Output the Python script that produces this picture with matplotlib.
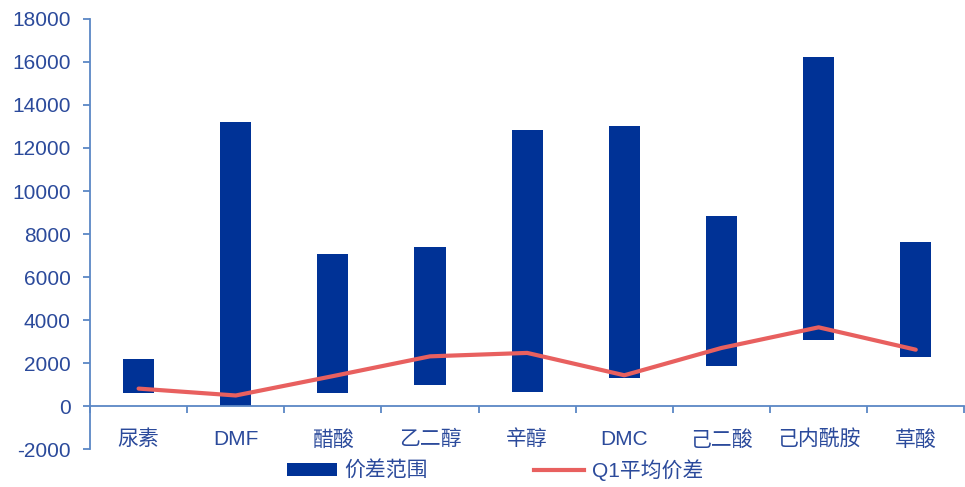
import numpy as np
import matplotlib
matplotlib.use('Agg')
import matplotlib.pyplot as plt
from matplotlib.patches import Patch
from matplotlib.lines import Line2D

plt.rcParams['font.family'] = ['Liberation Sans', 'Noto Sans CJK SC', 'DejaVu Sans']

# data
categories = ['尿素', 'DMF', '醋酸', '乙二醇', '辛醇', 'DMC', '己二酸', '己内酰胺', '草酸']
range_low = [600, 0, 600, 970, 660, 1310, 1850, 3090, 2270]
range_high = [2200, 13200, 7070, 7380, 12860, 13040, 8850, 16250, 7650]
q1_avg = [810, 490, 1390, 2310, 2470, 1430, 2700, 3660, 2620]
y_ticks = [-2000, 0, 2000, 4000, 6000, 8000, 10000, 12000, 14000, 16000, 18000]

bar_color = '#003296'
line_color = '#E8605F'
axis_color = '#5B87C5'
text_color = '#2B4A9B'

fig = plt.figure(figsize=(9.65, 4.87), dpi=100)
ax = fig.add_axes([0.0933, 0.078, 0.906, 0.883])

x = np.arange(len(categories))
low = np.array(range_low)
high = np.array(range_high)
ax.bar(x, high - low, bottom=low, width=0.32, color=bar_color, zorder=2)
ax.plot(x, q1_avg, color=line_color, linewidth=3, zorder=3, solid_capstyle='round')

ax.set_xlim(-0.5, len(categories) - 0.5)
ax.set_ylim(-2000, 18000)
ax.set_yticks(y_ticks)
ax.set_yticklabels([str(v) for v in y_ticks])

# x axis sits at zero, ticks mark the category boundaries
ax.spines['bottom'].set_position(('data', 0))
ax.set_xticks(np.arange(len(categories) + 1) - 0.5)
ax.set_xticklabels([])
ax.set_xticks(x, minor=True)
ax.set_xticklabels(categories, minor=True)
ax.tick_params(axis='x', which='major', direction='out', length=5, width=1.3, color=axis_color)
ax.tick_params(axis='x', which='minor', length=0, pad=17, labelsize=15, labelcolor=text_color)
ax.tick_params(axis='y', direction='out', length=5, width=1.3, color=axis_color,
               pad=9, labelsize=15, labelcolor=text_color)

for side in ['top', 'right']:
    ax.spines[side].set_visible(False)
for side in ['left', 'bottom']:
    ax.spines[side].set_color(axis_color)
    ax.spines[side].set_linewidth(1.3)

handles = [Patch(facecolor=bar_color, edgecolor='none'),
           Line2D([0], [0], color=line_color, linewidth=3)]
fig.legend(handles, ['价差范围', 'Q1平均价差'], loc='center', bbox_to_anchor=(0.513, 0.035),
           ncol=2, frameon=False, fontsize=15, labelcolor=text_color,
           handlelength=2.4, handleheight=0.6, handletextpad=0.35, columnspacing=5.1)

plt.savefig('out.png', dpi=100)
plt.close()
